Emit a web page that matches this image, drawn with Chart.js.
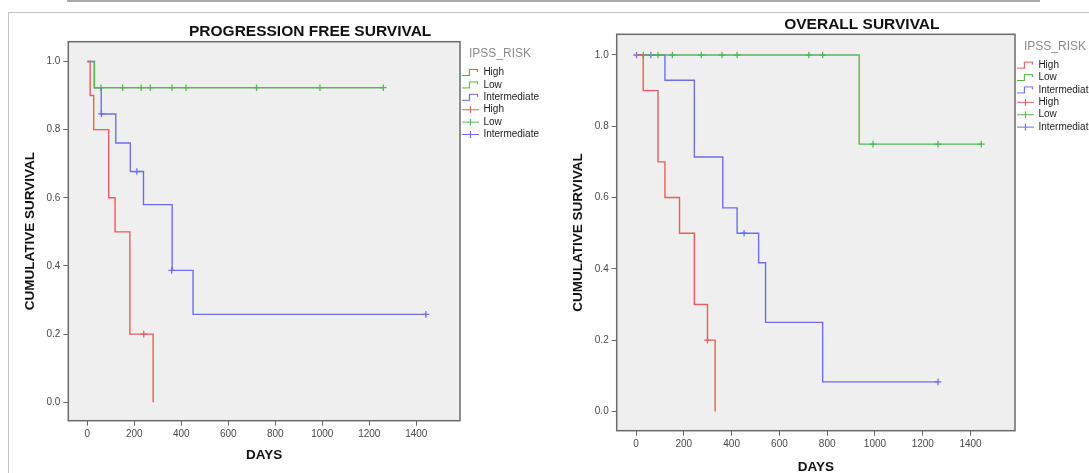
<!DOCTYPE html>
<html>
<head>
<meta charset="utf-8">
<script src="https://cdn.jsdelivr.net/npm/chart.js@4.4.1/dist/chart.umd.min.js"></script>
<style>
  html, body { margin: 0; padding: 0; background: #fff; overflow: hidden; }
  #page { position: relative; width: 1089px; height: 473px; overflow: hidden; }
  .topline { position: absolute; left: 67px; top: 0; width: 973px; height: 2px; background: #a9a9a9; }
  .panel { position: absolute; left: 8px; top: 12px; width: 1100px; height: 470px;
           border-top: 1px solid #c4c4c4; border-left: 1px solid #c4c4c4; }
  canvas { position: absolute; top: 0; }
  #pfs { left: 0; }
  #os { left: 545px; }
</style>
</head>
<body>
<div id="page">
  <div class="topline"></div>
  <div class="panel"></div>
  <canvas id="pfs" width="545" height="480"></canvas>
  <canvas id="os" width="560" height="480"></canvas>
</div>
<script>
// values
const riskGroups = ['High', 'Low', 'Intermediate'];
const xTicks = [0, 200, 400, 600, 800, 1000, 1200, 1400];
const yTicks = [0, 0.2, 0.4, 0.6, 0.8, 1.0];

// progression free survival - step points (day, survival after the step)
const pfsHighDays = [0, 12, 27, 91, 118, 181, 280];
const pfsHighSurv = [1, 0.9, 0.8, 0.6, 0.5, 0.2, 0];
const pfsLowDays = [0, 30, 1260];
const pfsLowSurv = [1, 0.923, 0.923];
const pfsIntDays = [0, 30, 59, 121, 183, 239, 361, 450, 1441];
const pfsIntSurv = [1, 0.923, 0.846, 0.761, 0.677, 0.580, 0.387, 0.258, 0.258];
// censored cases
const pfsHighCensDays = [240];
const pfsHighCensSurv = [0.2];
const pfsLowCensDays = [58, 150, 229, 268, 360, 420, 720, 990, 1260];
const pfsLowCensSurv = [0.923, 0.923, 0.923, 0.923, 0.923, 0.923, 0.923, 0.923, 0.923];
const pfsIntCensDays = [60, 211, 359, 1441];
const pfsIntCensSurv = [0.846, 0.677, 0.387, 0.258];

// overall survival
const osHighDays = [0, 30, 92, 121, 182, 244, 299, 331];
const osHighSurv = [1, 0.9, 0.7, 0.6, 0.5, 0.3, 0.2, 0];
const osLowDays = [0, 934, 1445];
const osLowSurv = [1, 0.75, 0.75];
const osIntDays = [0, 121, 244, 363, 423, 513, 542, 781, 1264];
const osIntSurv = [1, 0.929, 0.714, 0.571, 0.5, 0.417, 0.25, 0.083, 0.083];
const osHighCensDays = [299];
const osHighCensSurv = [0.2];
const osLowCensDays = [30, 92, 152, 273, 360, 423, 723, 781, 992, 1264, 1445];
const osLowCensSurv = [1, 1, 1, 1, 1, 1, 1, 1, 0.75, 0.75, 0.75];
const osIntCensDays = [2, 62, 452, 1264];
const osIntCensSurv = [1, 1, 0.5, 0.083];

const colors = ['#ec5b5e', '#52b952', '#6d6df0'];
const fontFamily = '"Liberation Sans", Arial, sans-serif';

function toPts(xs, ys) {
  return xs.map((x, i) => ({ x: x, y: ys[i] }));
}

function stepIcon(color) {
  const c = document.createElement('canvas');
  c.width = 17; c.height = 9;
  const g = c.getContext('2d');
  g.strokeStyle = color; g.lineWidth = 1.2;
  g.beginPath();
  g.moveTo(0, 7.5); g.lineTo(7.5, 7.5); g.lineTo(7.5, 1.5); g.lineTo(15.5, 1.5); g.lineTo(15.5, 4);
  g.stroke();
  return c;
}

function crossIcon(color) {
  const c = document.createElement('canvas');
  c.width = 17; c.height = 9;
  const g = c.getContext('2d');
  g.strokeStyle = color; g.lineWidth = 1.2;
  g.beginPath();
  g.moveTo(0, 4.5); g.lineTo(17, 4.5);
  g.moveTo(8.5, 1); g.lineTo(8.5, 8);
  g.stroke();
  return c;
}

const legendIcons = colors.map(stepIcon).concat(colors.map(crossIcon));

const framePlugin = {
  id: 'frame',
  beforeDatasetsDraw(chart) {
    const ctx = chart.ctx, a = chart.chartArea;
    ctx.save();
    ctx.fillStyle = '#efefef';
    ctx.fillRect(a.left, a.top, a.right - a.left, a.bottom - a.top);
    ctx.strokeStyle = '#6b6b6b';
    ctx.lineWidth = 1.5;
    ctx.strokeRect(a.left, a.top, a.right - a.left, a.bottom - a.top);
    ctx.restore();
  }
};

const panelTitle = {
  id: 'panelTitle',
  afterDraw(chart, args, opts) {
    const ctx = chart.ctx, a = chart.chartArea;
    ctx.save();
    ctx.font = 'bold 15.5px ' + fontFamily;
    ctx.fillStyle = '#111';
    ctx.textAlign = 'center';
    ctx.textBaseline = 'middle';
    ctx.fillText(opts.text, (a.left + a.right) / 2 + 46, a.top - 9.5);
    ctx.restore();
  }
};

function makeChart(id, title, curves, censored, lay) {
  const datasets = [];
  curves.forEach((c, i) => {
    datasets.push({
      label: riskGroups[i],
      data: toPts(c[0], c[1]),
      showLine: true,
      stepped: true,
      borderColor: colors[i],
      borderWidth: 1.4,
      pointRadius: 0,
      fill: false
    });
  });
  censored.forEach((c, i) => {
    datasets.push({
      label: riskGroups[i],
      data: toPts(c[0], c[1]),
      showLine: false,
      pointStyle: 'cross',
      pointRadius: 3.3,
      pointBorderWidth: 1.3,
      borderColor: colors[i],
      backgroundColor: colors[i]
    });
  });

  return new Chart(document.getElementById(id), {
    type: 'scatter',
    data: { datasets: datasets },
    plugins: [framePlugin, panelTitle],
    options: {
      responsive: false,
      animation: false,
      events: [],
      layout: { padding: { left: 14, right: lay.right, top: lay.top, bottom: 0 } },
      scales: {
        x: {
          type: 'linear',
          min: -81,
          max: 1586,
          afterBuildTicks: s => { s.ticks = xTicks.map(v => ({ value: v })); },
          afterFit: s => { s.height = lay.xHeight; },
          ticks: { color: '#4a4a4a', font: { family: fontFamily, size: 10 }, padding: 3,
                   maxRotation: 0, callback: v => String(v) },
          grid: { drawOnChartArea: false, tickLength: 5, color: '#666' },
          border: { display: false },
          title: { display: true, text: 'DAYS', color: '#111',
                   font: { family: fontFamily, size: 13.5, weight: 'bold' },
                   padding: { top: 0, bottom: lay.xTitlePad } }
        },
        y: {
          min: -0.054,
          max: 1.058,
          afterBuildTicks: s => { s.ticks = yTicks.map(v => ({ value: v })); },
          afterFit: s => { s.width = lay.yWidth; },
          ticks: { color: '#4a4a4a', font: { family: fontFamily, size: 10 }, padding: 3,
                   callback: v => v.toFixed(1) },
          grid: { drawOnChartArea: false, tickLength: 5, color: '#666' },
          border: { display: false },
          title: { display: true, text: 'CUMULATIVE SURVIVAL', color: '#111',
                   font: { family: fontFamily, size: 13.5, weight: 'bold' },
                   padding: { top: lay.yTitlePad, bottom: 0 } }
        }
      },
      plugins: {
        panelTitle: { text: title },
        tooltip: { enabled: false },
        legend: {
          position: 'right',
          align: 'start',
          maxWidth: 80,
          title: { display: true, text: 'IPSS_RISK', color: '#8c8c8c',
                   font: { family: fontFamily, size: 12 }, padding: { top: 6, bottom: 3 } },
          labels: {
            usePointStyle: true,
            pointStyleWidth: 16,
            padding: 2.4,
            color: '#222',
            font: { family: fontFamily, size: 10 },
            generateLabels(chart) {
              const items = Chart.defaults.plugins.legend.labels.generateLabels(chart);
              items.forEach((it, i) => { it.pointStyle = legendIcons[i]; });
              return items;
            }
          }
        }
      }
    }
  });
}

makeChart('pfs', 'PROGRESSION FREE SURVIVAL',
  [[pfsHighDays, pfsHighSurv], [pfsLowDays, pfsLowSurv], [pfsIntDays, pfsIntSurv]],
  [[pfsHighCensDays, pfsHighCensSurv], [pfsLowCensDays, pfsLowCensSurv], [pfsIntCensDays, pfsIntCensSurv]],
  { right: 5, top: 41.7, xHeight: 59.3, yWidth: 54.3, xTitlePad: 16.9, yTitlePad: 7.9 });

makeChart('os', 'OVERALL SURVIVAL',
  [[osHighDays, osHighSurv], [osLowDays, osLowSurv], [osIntDays, osIntSurv]],
  [[osHighCensDays, osHighCensSurv], [osLowCensDays, osLowCensSurv], [osIntCensDays, osIntCensSurv]],
  { right: 10, top: 34.3, xHeight: 49.3, yWidth: 57.7, xTitlePad: 4.9, yTitlePad: 11.5 });
</script>
</body>
</html>
